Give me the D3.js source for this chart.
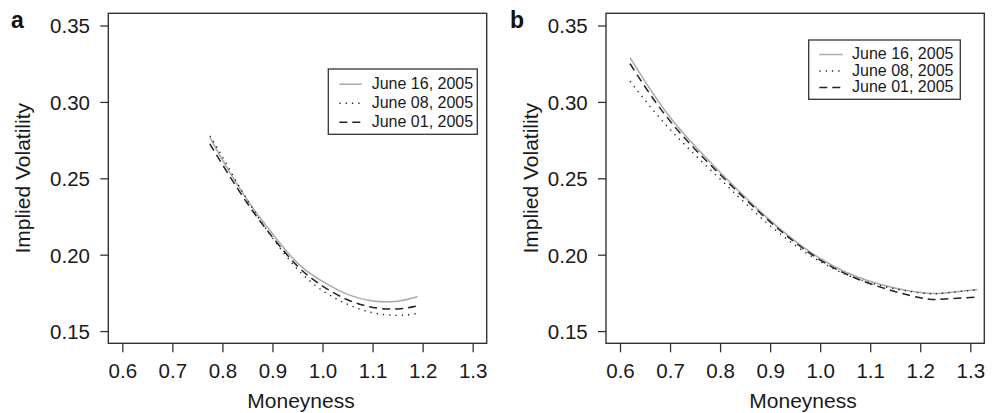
<!DOCTYPE html>
<html>
<head>
<meta charset="utf-8">
<script src="https://cdn.jsdelivr.net/npm/d3@7"></script>
<style>
  body { margin: 0; background: #fff; }
  text { font-family: "Liberation Sans", Arial, Helvetica, sans-serif; fill: #1a1a1a; }
</style>
</head>
<body>
<script>

// Series names (legend order)
var seriesNames = ["June 16, 2005", "June 08, 2005", "June 01, 2005"];

// Tick values
var xTicks = [0.6, 0.7, 0.8, 0.9, 1.0, 1.1, 1.2, 1.3];
var yTicks = [0.15, 0.20, 0.25, 0.30, 0.35];

// Panel a: moneyness grid and implied volatilities
var moneyA  = [0.775, 0.80, 0.85, 0.90, 0.95, 1.00, 1.05, 1.10, 1.15, 1.19];
var june16A = [0.277, 0.262, 0.2357, 0.2137, 0.1945, 0.1825, 0.174, 0.1697, 0.1696, 0.1725];
var june08A = [0.2778, 0.264, 0.2355, 0.211, 0.1905, 0.1765, 0.1675, 0.162, 0.1603, 0.1615];
var june01A = [0.2725, 0.259, 0.2335, 0.2115, 0.1925, 0.1795, 0.1705, 0.1655, 0.1645, 0.1665];

// Panel b
var moneyB  = [0.62, 0.70, 0.80, 0.90, 1.00, 1.10, 1.20, 1.25, 1.314];
var june16B = [0.329, 0.290, 0.254, 0.2225, 0.1975, 0.1825, 0.1752, 0.175, 0.1772];
var june08B = [0.3135, 0.282, 0.2495, 0.219, 0.1955, 0.1815, 0.175, 0.175, 0.177];
var june01B = [0.325, 0.2875, 0.2525, 0.2215, 0.1965, 0.181, 0.1718, 0.171, 0.1722];

//Width and height
var w = 996;
var h = 413;

// line styles for the three series
var styles = [
  { stroke: "#aaaaaa", width: 1.5, dash: null },
  { stroke: "#222222", width: 1.4, dash: "1.3,5" },
  { stroke: "#222222", width: 1.5, dash: "8,5" }
];

var svg = d3.select("body")
            .append("svg")
            .attr("width", w)
            .attr("height", h);

function drawPanel(p) {
  // R style: 4% padding around xlim / ylim
  var x = d3.scaleLinear().domain([0.572, 1.328]).range([p.left, p.right]);
  var y = d3.scaleLinear().domain([0.142, 0.358]).range([p.bottom, p.top]);

  var g = svg.append("g");

  //Curves
  var line = d3.line()
               .x(function(d) { return x(d[0]); })
               .y(function(d) { return y(d[1]); })
               .curve(d3.curveNatural);

  p.series.forEach(function(vals, i) {
    var pts = p.money.map(function(m, j) { return [m, vals[j]]; });
    g.append("path")
     .attr("d", line(pts))
     .style("fill", "none")
     .style("stroke", styles[i].stroke)
     .style("stroke-width", styles[i].width)
     .style("stroke-dasharray", styles[i].dash);
  });

  //Box
  g.append("rect")
   .attr("x", p.left)
   .attr("y", p.top)
   .attr("width", p.right - p.left)
   .attr("height", p.bottom - p.top)
   .style("fill", "none")
   .style("stroke", "#333")
   .style("stroke-width", 1.4);

  //Axes (ticks hang off the box)
  var xAxis = d3.axisBottom(x).tickValues(xTicks).tickSize(9).tickPadding(8)
                .tickFormat(d3.format(".1f"));
  var gx = g.append("g").attr("transform", "translate(0," + p.bottom + ")").call(xAxis);
  gx.select(".domain").remove();
  gx.selectAll("line").style("stroke", "#333").style("stroke-width", 1.3);
  gx.selectAll("text").attr("y", 35).attr("dy", null).style("font-size", "20.5px").style("fill", "#1a1a1a");

  var yAxis = d3.axisLeft(y).tickValues(yTicks).tickSize(8)
                .tickFormat(d3.format(".2f"));
  var gy = g.append("g").attr("transform", "translate(" + p.left + ",0)").call(yAxis);
  gy.select(".domain").remove();
  gy.selectAll("line").style("stroke", "#333").style("stroke-width", 1.3);
  gy.selectAll("text").attr("x", -18.3).attr("dy", "0.36em").style("font-size", "20.5px").style("fill", "#1a1a1a");

  //Axis titles
  g.append("text")
   .attr("x", p.xTitleX)
   .attr("y", 408)
   .attr("text-anchor", "middle")
   .style("font-size", "21px")
   .text("Moneyness");

  g.append("text")
   .attr("transform", "translate(" + p.yTitleX + "," + (p.top + p.bottom) / 2 + ") rotate(-90)")
   .attr("text-anchor", "middle")
   .style("font-size", "21px")
   .text("Implied Volatility");

  //Panel letter
  g.append("text")
   .attr("x", p.letterX)
   .attr("y", 28)
   .style("font-size", "23px")
   .style("font-weight", "bold")
   .style("fill", "#111")
   .text(p.letter);

  //Legend
  var lg = g.append("g");
  lg.append("rect")
    .attr("x", p.leg.x0)
    .attr("y", p.leg.y0)
    .attr("width", p.leg.x1 - p.leg.x0)
    .attr("height", p.leg.y1 - p.leg.y0)
    .style("fill", "#fff")
    .style("stroke", "#333")
    .style("stroke-width", 1.3);

  seriesNames.forEach(function(name, i) {
    var by = p.leg.base + i * p.leg.step;
    lg.append("line")
      .attr("x1", p.leg.lx0)
      .attr("x2", p.leg.lx1)
      .attr("y1", by - 4.5)
      .attr("y2", by - 4.5)
      .style("stroke", styles[i].stroke)
      .style("stroke-width", styles[i].width)
      .style("stroke-dasharray", styles[i].dash);
    lg.append("text")
      .attr("x", p.leg.tx)
      .attr("y", by)
      .style("font-size", "16px")
      .text(name);
  });
}

drawPanel({
  letter: "a", letterX: 11,
  left: 108.3, right: 486.7, top: 13.3, bottom: 343.3,
  xTitleX: 301, yTitleX: 29.5,
  money: moneyA, series: [june16A, june08A, june01A],
  leg: { x0: 328.3, x1: 477.3, y0: 69, y1: 134.3, lx0: 339.3, lx1: 361.7, tx: 371.7, base: 88.7, step: 19 }
});

drawPanel({
  letter: "b", letterX: 510,
  left: 606, right: 984.3, top: 13.3, bottom: 343.3,
  xTitleX: 803, yTitleX: 538.3,
  money: moneyB, series: [june16B, june08B, june01B],
  leg: { x0: 808.7, x1: 960.3, y0: 40, y1: 99.3, lx0: 819.3, lx1: 842.7, tx: 852, base: 59, step: 16.5 }
});

</script>
</body>
</html>
